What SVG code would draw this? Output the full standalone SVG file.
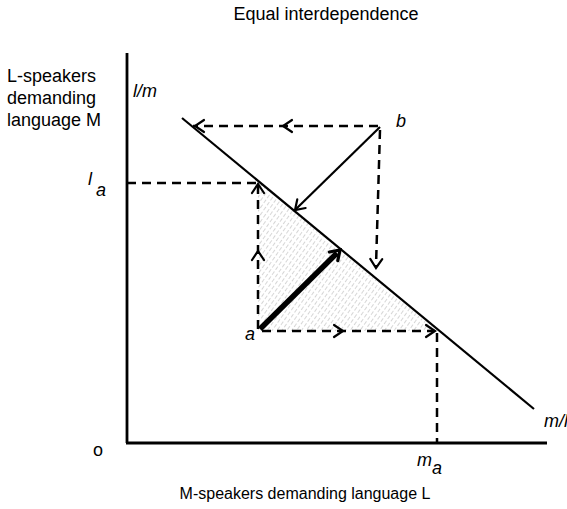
<svg xmlns="http://www.w3.org/2000/svg" width="567" height="509" viewBox="0 0 567 509">
<style>
.t{font-family:"Liberation Sans",Arial,sans-serif;font-size:16px;fill:#000}
.big{font-size:18px}
.i{font-style:italic;font-size:18px}
.ax{stroke:#000;stroke-width:2.8;fill:none}
.sol{stroke:#000;stroke-width:2.2;fill:none}
.dash{stroke:#000;stroke-width:2.5;fill:none;stroke-dasharray:9 6}
.ch{stroke:#000;stroke-width:2.2;fill:none;stroke-linecap:round;stroke-linejoin:miter}
</style>
<defs>
<pattern id="hatch" patternUnits="userSpaceOnUse" width="4" height="6" patternTransform="rotate(35)">
<line x1="0" y1="0" x2="0" y2="6" stroke="#999" stroke-width="0.8" stroke-dasharray="3 2"/>
</pattern>
<path id="chev" d="M-9,-6 L0,0 L-9,6"/>
</defs>
<rect width="567" height="509" fill="#fff"/>
<g id="title"><text class="t big" x="326" y="20" text-anchor="middle">Equal interdependence</text></g>
<g id="shade"><polygon points="258,182 258,331 437,331" fill="url(#hatch)"/></g>
<g id="axes">
<line class="ax" x1="127" y1="53" x2="127" y2="443"/>
<line class="ax" x1="126" y1="443" x2="547" y2="443"/>
</g>
<g id="curve"><line class="sol" x1="182" y1="118" x2="534" y2="409"/></g>
<g id="connectors">
<line class="dash" x1="127" y1="183" x2="256" y2="183"/>
<line class="dash" x1="378" y1="126" x2="193" y2="126"/>
<line class="dash" x1="380" y1="130" x2="376" y2="266"/>
<line class="sol" x1="380" y1="127" x2="296" y2="209"/>
<line class="dash" x1="258" y1="329" x2="258" y2="186"/>
<line class="dash" x1="262" y1="331" x2="434" y2="331"/>
<line class="dash" x1="437" y1="333" x2="437" y2="443"/>
<line x1="260" y1="329" x2="337" y2="253" stroke="#000" stroke-width="5.5"/>
<use href="#chev" class="ch" transform="translate(283,126) rotate(180)"/>
<use href="#chev" class="ch" transform="translate(195,126) rotate(180)"/>
<use href="#chev" class="ch" transform="translate(376,268) rotate(91.6)"/>
<use href="#chev" class="ch" transform="translate(295,210) rotate(135.7)"/>
<use href="#chev" class="ch" transform="translate(258,251) rotate(-90)"/>
<use href="#chev" class="ch" transform="translate(258,184) rotate(-90)"/>
<use href="#chev" class="ch" transform="translate(343,331)"/>
<use href="#chev" class="ch" transform="translate(435,331)"/>
<use href="#chev" class="ch" style="stroke-width:3.2" transform="translate(340,250) rotate(-44.6)"/>
</g>
<g id="ylabel">
<text class="t big" x="7" y="82">L-speakers</text>
<text class="t big" x="7" y="104">demanding</text>
<text class="t big" x="7" y="126">language M</text>
</g>
<g id="labels">
<text class="t i" x="133" y="97">l/m</text>
<text class="t i" x="88" y="185">l</text>
<text class="t i" x="96" y="196">a</text>
<text class="t i" x="396" y="127">b</text>
<text class="t i" x="245" y="340">a</text>
<text class="t i" x="544" y="427">m/l</text>
<text class="t i" x="417" y="466">m</text>
<text class="t i" x="432" y="474">a</text>
<text class="t big" x="93" y="456">o</text>
<text class="t" x="305" y="499" text-anchor="middle">M-speakers demanding language L</text>
</g>
</svg>
